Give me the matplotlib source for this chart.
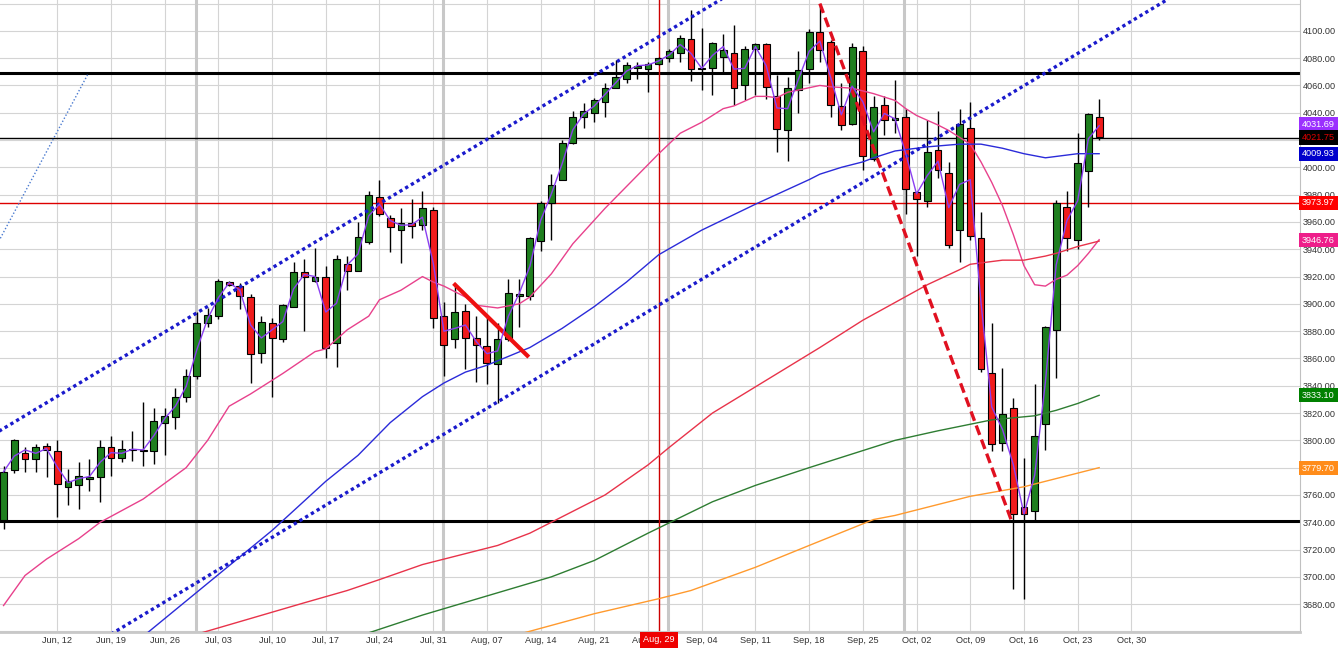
import matplotlib
matplotlib.use("Agg")
import matplotlib.pyplot as plt
import matplotlib.transforms as mtransforms
import numpy as np
import pandas as pd

plt.rcParams['font.family'] = ['Liberation Sans', 'DejaVu Sans']

# daily candles, weekdays from 2023-06-05 to 2023-10-25
opens = [3742, 3778, 3791, 3786, 3796, 3792, 3766, 3767, 3772, 3773,
         3795, 3787, 3793, 3792, 3792, 3813, 3817, 3832, 3847, 3886,
         3891, 3916, 3913, 3905, 3864, 3886, 3874, 3898, 3923, 3917,
         3920, 3871, 3929, 3924, 3945, 3978, 3963, 3954, 3959, 3958,
         3969, 3891, 3874, 3895, 3875, 3869, 3856, 3874, 3906, 3906,
         3946, 3974, 3991, 4018, 4037, 4040, 4048, 4058, 4065, 4073,
         4072, 4076, 4080, 4084, 4094, 4072, 4073, 4081, 4084, 4060,
         4087, 4090, 4052, 4027, 4057, 4072, 4099, 4092, 4045, 4032,
         4085, 4006, 4046, 4035, 4037, 3982, 3975, 4013, 3996, 3954,
         4029, 3948, 3849, 3798, 3824, 3751, 3748, 3812, 3881, 3971,
         3947, 3997, 4037]
highs = [3781, 3801, 3795, 3797, 3798, 3800, 3779, 3784, 3786, 3800,
         3803, 3800, 3807, 3828, 3824, 3824, 3838, 3852, 3894, 3897,
         3918, 3917, 3915, 3907, 3891, 3890, 3900, 3931, 3933, 3941,
         3928, 3936, 3935, 3960, 3983, 3991, 3965, 3970, 3977, 3983,
         3971, 3901, 3915, 3900, 3891, 3891, 3886, 3918, 3918, 3949,
         3975, 3995, 4020, 4041, 4047, 4051, 4062, 4079, 4077, 4077,
         4077, 4081, 4087, 4097, 4115, 4102, 4092, 4098, 4104, 4089,
         4091, 4091, 4068, 4066, 4085, 4101, 4119, 4093, 4062, 4091,
         4089, 4052, 4052, 4064, 4043, 3983, 4035, 4041, 4004, 4043,
         4048, 3967, 3886, 3853, 3831, 3787, 3841, 3884, 3976, 3983,
         4025, 4040, 4050]
lows = [3735, 3776, 3777, 3777, 3773, 3744, 3753, 3750, 3763, 3755,
        3774, 3784, 3785, 3781, 3783, 3789, 3808, 3828, 3845, 3883,
        3889, 3913, 3896, 3842, 3857, 3832, 3872, 3898, 3880, 3916,
        3860, 3854, 3910, 3924, 3944, 3964, 3938, 3930, 3948, 3954,
        3882, 3847, 3868, 3852, 3843, 3841, 3827, 3873, 3883, 3903,
        3939, 3947, 3991, 4017, 4029, 4033, 4037, 4058, 4062, 4065,
        4055, 4075, 4077, 4077, 4063, 4057, 4053, 4069, 4046, 4049,
        4053, 4050, 4011, 4005, 4040, 4062, 4077, 4037, 4027, 4031,
        3998, 4005, 4024, 4025, 3966, 3935, 3971, 3992, 3941, 3931,
        3947, 3850, 3792, 3792, 3691, 3684, 3742, 3793, 3846, 3939,
        3940, 3971, 4020]
closes = [3777, 3800, 3786, 3795, 3793, 3768, 3770, 3774, 3773, 3795,
          3787, 3794, 3793, 3793, 3814, 3818, 3832, 3847, 3886, 3892,
          3917, 3914, 3906, 3863, 3887, 3875, 3899, 3923, 3920, 3920,
          3868, 3933, 3924, 3949, 3980, 3966, 3956, 3959, 3957, 3970,
          3890, 3870, 3894, 3875, 3870, 3857, 3874, 3908, 3907, 3948,
          3974, 3987, 4018, 4037, 4041, 4049, 4058, 4066, 4075, 4074,
          4076, 4080, 4085, 4095, 4072, 4073, 4091, 4086, 4058, 4087,
          4090, 4059, 4028, 4058, 4071, 4099, 4086, 4046, 4031, 4088,
          4008, 4044, 4035, 4036, 3984, 3977, 4011, 3998, 3943, 4032,
          3950, 3852, 3797, 3819, 3746, 3746, 3803, 3883, 3974, 3948,
          4003, 4039, 4022]

# moving averages (trading-day number, value)
pink_days = [0, 2, 4, 7, 9, 13, 17, 19, 21, 23, 26, 29, 30, 32, 34, 35, 37, 39, 40, 41,
             43, 44, 46, 48, 49, 51, 53, 56, 59, 61, 63, 65, 67, 68, 70, 71, 72, 73, 76, 77,
             79, 81, 83, 84, 85, 87, 88, 90, 91, 92, 93, 94, 95, 96, 97, 98, 99, 100, 101, 102]
pink_vals = [3679, 3701, 3713, 3728, 3740, 3757, 3780, 3800, 3825, 3834, 3849, 3865, 3867, 3881, 3891,
             3903, 3910, 3920, 3916, 3913, 3905, 3899, 3897, 3900, 3905, 3922, 3944, 3970, 3994, 4010,
             4025, 4033, 4043, 4045, 4052, 4052, 4051, 4055, 4060, 4059, 4058, 4054, 4049, 4043, 4038,
             4031, 4027, 4017, 4004, 3989, 3972, 3951, 3928, 3914, 3913, 3918, 3921, 3928, 3937, 3947]
blue_days = [12, 25, 30, 33, 36, 39, 41, 43, 45, 49, 52, 55, 58, 61, 65, 70,
             75, 76, 78, 80, 81, 83, 84, 86, 89, 91, 93, 95, 97, 99, 100, 102]
blue_vals = [3650, 3734, 3770, 3789, 3813, 3832, 3842, 3850, 3855, 3868, 3882, 3898, 3916, 3936, 3954, 3973,
             3991, 3995, 4000, 4004, 4007, 4012, 4013, 4015, 4017, 4017, 4014, 4010, 4007, 4009, 4010, 4010]
red_days = [18, 28, 32, 35, 39, 43, 46, 49, 51, 56, 60, 62, 66, 71, 76, 80, 83,
            86, 89, 90, 93, 95, 97, 98, 100, 102]
red_vals = [3658, 3681, 3690, 3698, 3709, 3717, 3723, 3732, 3740, 3760, 3782, 3795, 3820, 3844, 3868,
            3888, 3901, 3914, 3925, 3929, 3932, 3932, 3935, 3937, 3942, 3946]
green_days = [34, 39, 45, 51, 55, 60, 66, 70, 75, 83, 87, 92, 96, 98, 100, 102]
green_vals = [3659, 3672, 3686, 3700, 3712, 3732, 3755, 3767, 3780, 3800, 3807, 3815, 3818, 3822, 3827, 3833]
orange_days = [48, 55, 61, 64, 70, 75, 81, 83, 87, 90, 95, 98, 102]
orange_vals = [3658, 3673, 3684, 3690, 3707, 3723, 3742, 3745, 3753, 3759, 3766, 3772, 3780]

# drawn lines (trading-day number, price)
channel_upper = ([-1, 67], [3804, 4124])
channel_lower = ([10, 120], [3658, 4178])
thin_line = ([-0.3, 7.9], [3948, 4069])
red_dash = ([76, 93.8], [4120, 3742])
red_stroke = ([41.9, 48.9], [3915, 3861])
black_levels = [4069.4, 3741.0]
thin_level = 4021.75
red_level = 3973.97
cursor_day = 61

# right-hand value tags
tag_vals = [4031.69, 4021.75, 4009.93, 3973.97, 3946.76, 3833.10, 3779.70]
tag_colors = ['#9b30ff', '#000000', '#0000cc', '#ff0000', '#ee1e8a', '#008000', '#ff8c1a']
tag_text = ['white', '#e00000', 'white', 'white', 'white', 'white', 'white']

days = pd.bdate_range("2023-06-05", "2023-11-30")
n = len(closes)
x = np.arange(n)
o = np.array(opens, float)
c = np.array(closes, float)
h = np.array(highs, float)
l = np.array(lows, float)

fig = plt.figure(figsize=(13.43, 6.62), dpi=100)
ax = fig.add_axes([0, 1 - 632 / 662, 1300 / 1343, 632 / 662])
ax.set_xlim(-0.33, 120.7)
ax.set_ylim(3659.6, 4122.6)

# grid
for p in range(3660, 4121, 20):
    ax.axhline(p, color='#d4d4d4', lw=0.8, zorder=0)
week_ticks = list(range(5, 106, 5))
for d in week_ticks:
    ax.axvline(d, color='#d4d4d4', lw=0.8, zorder=0)
for d in [17.9, 40.9, 61.9, 83.8]:
    ax.axvline(d, color='#c8c8c8', lw=2.2, zorder=0)

# levels
for p in black_levels:
    ax.axhline(p, color='black', lw=2.2, zorder=1)
ax.axhline(thin_level, color='black', lw=1.0, zorder=1)
ax.axhline(red_level, color='#dd0000', lw=1.0, zorder=1)
ax.axvline(cursor_day, color='#cc0000', lw=1.0, zorder=1)

# candles
up = c >= o
body_lo = np.minimum(o, c)
body_h = np.maximum(np.abs(c - o), 0.6)
ax.vlines(x, l, h, color='black', lw=1.0, zorder=2)
ax.bar(x[up], body_h[up], bottom=body_lo[up], width=0.64,
       color='#1f7f1f', edgecolor='black', lw=0.8, zorder=3)
ax.bar(x[~up], body_h[~up], bottom=body_lo[~up], width=0.64,
       color='#f01c1c', edgecolor='black', lw=0.8, zorder=3)

# moving averages
ax.plot(pink_days, pink_vals, color='#e8418c', lw=1.0, zorder=4)
ax.plot(blue_days, blue_vals, color='#2b2bd9', lw=1.0, zorder=4)
ax.plot(red_days, red_vals, color='#e8334a', lw=1.0, zorder=4)
ax.plot(green_days, green_vals, color='#2e7d32', lw=1.0, zorder=4)
ax.plot(orange_days, orange_vals, color='#ff9a2e', lw=1.0, zorder=4)
ma2 = pd.Series(c).rolling(2, min_periods=1).mean()
ax.plot(x, ma2, color='#8a3ff0', lw=1.0, zorder=5)

# trend lines
ax.plot(*channel_upper, color='#1a1acc', lw=2.4, ls=(0, (1, 1)), zorder=4)
ax.plot(*channel_lower, color='#1a1acc', lw=2.4, ls=(0, (1, 1)), zorder=4)
ax.plot(*thin_line, color='#4a7ad0', lw=1.0, ls=(0, (1, 1.5)), zorder=4)
ax.plot(*red_dash, color='#e01020', lw=2.4, ls=(0, (3, 1.5)), zorder=4)
ax.plot(*red_stroke, color='#ee1010', lw=3.0, zorder=4, solid_capstyle='butt')

# axes
ax.yaxis.tick_right()
ax.set_yticks(range(3680, 4101, 20))
ax.set_yticklabels([f"{v:.2f}" for v in range(3680, 4101, 20)])
ax.set_xticks(week_ticks)
ax.set_xticklabels([days[d].strftime("%b, %d") for d in week_ticks])
ax.tick_params(axis='both', length=0, labelsize=6.6, labelcolor='#333333')
ax.tick_params(axis='y', pad=2)
ax.tick_params(axis='x', pad=3)
for side in ['left', 'top']:
    ax.spines[side].set_visible(False)
ax.spines['right'].set_color('#c0c0c0')
ax.spines['bottom'].set_color('#c8c8c8')
ax.spines['bottom'].set_linewidth(2)

trans = mtransforms.blended_transform_factory(ax.transAxes, ax.transData)
for v, fc, tc in zip(tag_vals, tag_colors, tag_text):
    ax.text(1.0 + 2 / 1300, v, f"{v:.2f}", transform=trans, ha='left', va='center',
            fontsize=6.6, color=tc, zorder=10, clip_on=False,
            bbox=dict(boxstyle='square,pad=0.3', fc=fc, ec='none'))

trans_x = mtransforms.blended_transform_factory(ax.transData, ax.transAxes)
ax.text(cursor_day, -8 / 632, days[cursor_day].strftime("%b, %d"), transform=trans_x,
        ha='center', va='center', fontsize=6.6, color='white', zorder=10, clip_on=False,
        bbox=dict(boxstyle='square,pad=0.35', fc='#ee0000', ec='none'))

fig.savefig("out.png", dpi=100)
